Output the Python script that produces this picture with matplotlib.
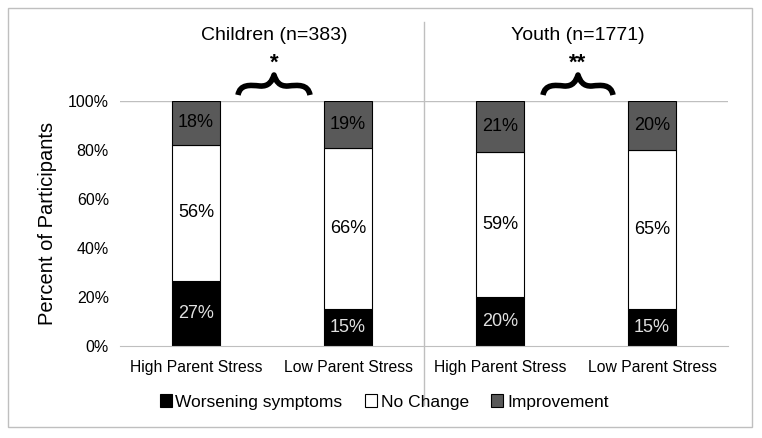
import matplotlib.pyplot as plt
import numpy as np
from matplotlib.patches import Rectangle
from matplotlib.path import Path
from matplotlib.patches import PathPatch

plt.rcParams['font.family'] = ['Liberation Sans', 'DejaVu Sans']

# Data
categories = ['High Parent Stress', 'Low Parent Stress', 'High Parent Stress', 'Low Parent Stress']
worsening = [26.6, 15, 20, 15]
no_change = [55.6, 66, 59, 65]
improvement = [17.8, 19, 21, 20]
groups = ['Children (n=383)', 'Youth (n=1771)']
signif = ['*', '**']

fig = plt.figure(figsize=(7.62, 4.38), dpi=100)
ax = fig.add_axes([120/762, 1-346/438, 608/762, 245/438])

x = np.arange(len(categories))
w = 0.32
gris = '#595959'

ax.bar(x, worsening, w, color='black', edgecolor='black', lw=0.8, label='Worsening symptoms')
ax.bar(x, no_change, w, bottom=worsening, color='white', edgecolor='black', lw=0.8, label='No Change')
bot2 = np.array(worsening) + np.array(no_change)
ax.bar(x, improvement, w, bottom=bot2, color=gris, edgecolor='black', lw=0.8, label='Improvement')

for i in range(len(x)):
    ax.text(x[i], worsening[i]/2, f'{round(worsening[i])}%', ha='center', va='center', color='#e0e0e0', fontsize=13)
    ax.text(x[i], worsening[i] + no_change[i]/2, f'{round(no_change[i])}%', ha='center', va='center', color='black', fontsize=13)
    ax.text(x[i], bot2[i] + improvement[i]/2, f'{round(improvement[i])}%', ha='center', va='center', color='black', fontsize=13)

ax.set_xlim(-0.5, 3.5)
ax.set_ylim(0, 100)
ax.set_yticks([0, 20, 40, 60, 80, 100])
ax.set_yticklabels([f'{v}%' for v in [0, 20, 40, 60, 80, 100]], fontsize=11.5)
ax.set_xticks(x)
ax.set_xticklabels(categories, fontsize=11.3)
ax.tick_params(axis='x', length=0, pad=10)
ax.tick_params(axis='y', length=0, pad=8)
ax.set_ylabel('Percent of Participants', fontsize=14.5, labelpad=8)
for s in ['top', 'right', 'left']:
    ax.spines[s].set_visible(False)
ax.spines['bottom'].set_color('#bfbfbf')
ax.axhline(100, color='#bfbfbf', lw=1, zorder=0)

# separator line between groups
fig.add_artist(plt.Line2D([424/762, 424/762], [1-22/438, 1-405/438], color='#bfbfbf', lw=1))

# group titles and significance
for cx, t, s in zip([274, 578], groups, signif):
    fig.text(cx/762, 1-36/438, t, ha='center', va='center', fontsize=14)
    fig.text(cx/762, 1-63/438, s, ha='center', va='center', fontsize=16, fontweight='bold')

# curly braces pointing up
def brace(x0, x1, ytop, ybot):
    xm = (x0 + x1)/2
    h = ybot - ytop
    pts = [(x0, ybot),
           (x0+2, ytop+h*0.45), (x0+12, ytop+h*0.5), (xm-14, ytop+h*0.55),
           (xm-5, ytop+h*0.58), (xm-2, ytop+h*0.3), (xm, ytop),
           (xm+2, ytop+h*0.3), (xm+5, ytop+h*0.58), (xm+14, ytop+h*0.55),
           (x1-12, ytop+h*0.5), (x1-2, ytop+h*0.45), (x1, ybot)]
    codes = [Path.MOVETO] + [Path.CURVE4]*12
    pts = [(px/762, 1-py/438) for px, py in pts]
    p = PathPatch(Path(pts, codes), fill=False, lw=4, color='black', capstyle='butt',
                  joinstyle='round', transform=fig.transFigure)
    fig.add_artist(p)

brace(238, 310, 75, 95)
brace(543, 613, 75, 95)

# border
fig.add_artist(Rectangle((8/762, 1-427/438), 744/762, 419/438, fill=False,
                         edgecolor='#bfbfbf', lw=1, transform=fig.transFigure))

leg = fig.legend(loc='center', bbox_to_anchor=(384/762, 1-402/438), ncol=3, frameon=False,
                 fontsize=12.5, handlelength=0.7, handleheight=0.7, handletextpad=0.2,
                 columnspacing=1.3)

fig.savefig('out.png', dpi=100)
